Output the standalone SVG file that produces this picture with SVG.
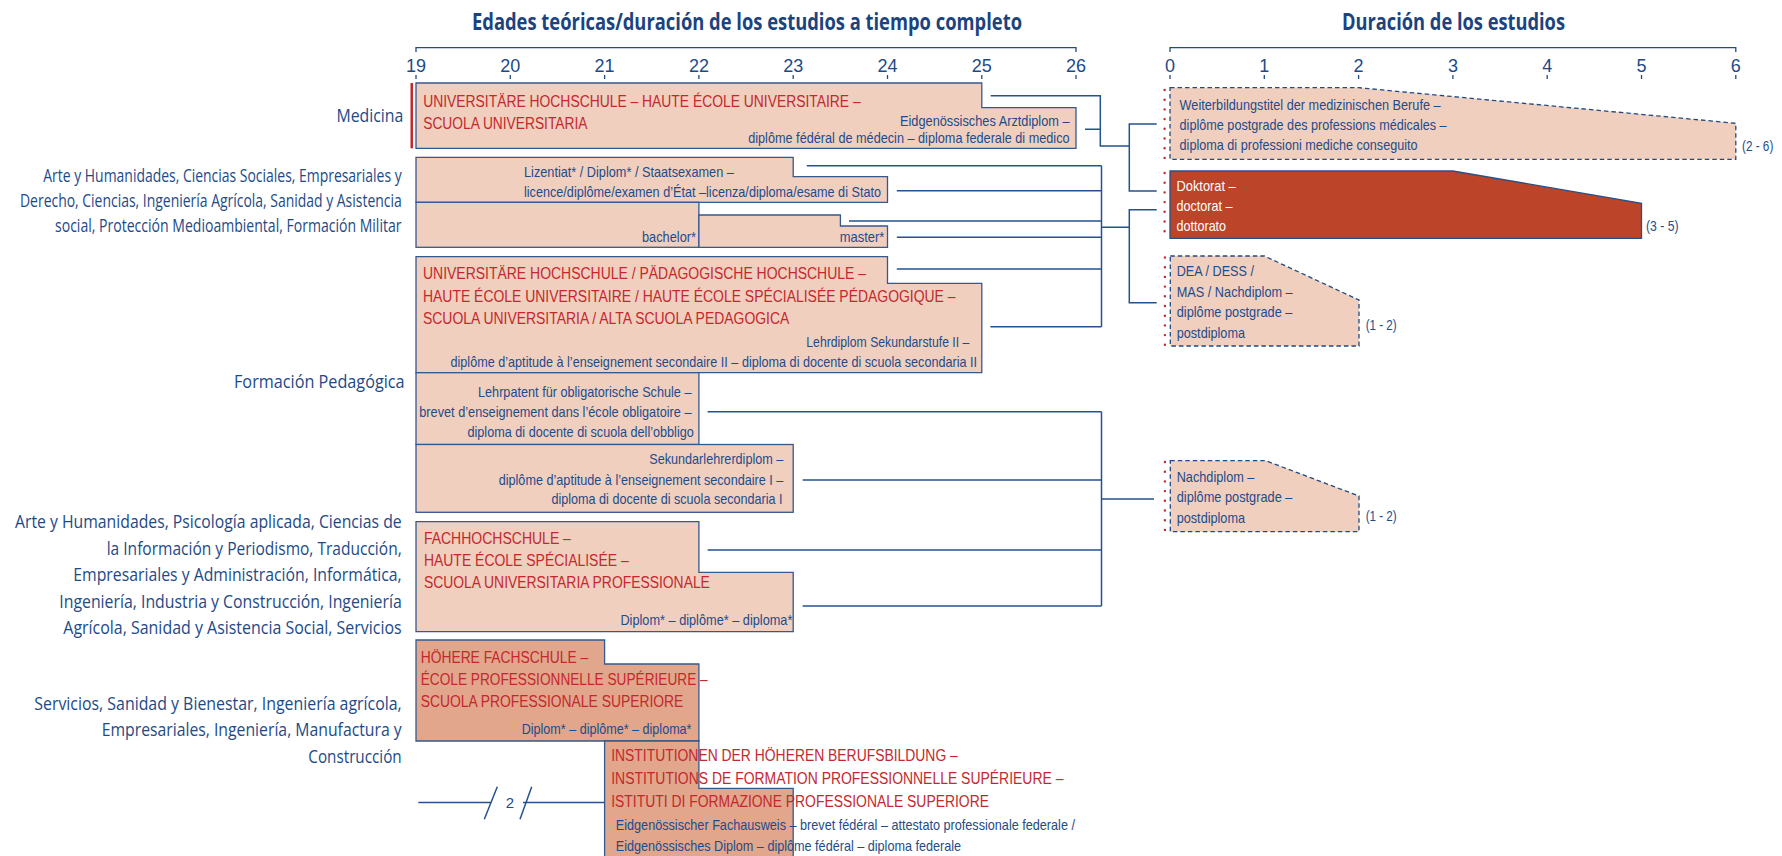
<svg xmlns="http://www.w3.org/2000/svg" width="1782" height="856" viewBox="0 0 1782 856">
<style>
text{font-family:"Liberation Sans",Arial,sans-serif;}
.lbl{font-family:"Open Sans","Liberation Sans",sans-serif;font-size:17.5px;fill:#1d4a87;text-anchor:end;}
.ttl{font-family:"Open Sans","Liberation Sans",sans-serif;font-weight:bold;font-size:23px;fill:#1a4380;}
.num{font-size:18px;fill:#1d4a87;text-anchor:middle;}
.b{font-size:15px;fill:#1e4b8a;}
.r{font-size:16px;fill:#c4282e;}
.w{font-size:15px;fill:#ffffff;}
.box{fill:#f0cfbe;stroke:#34598f;stroke-width:1.3;}
.dark{fill:#e1a68b;stroke:#34598f;stroke-width:1.3;}
.dash{fill:#f0cfbe;stroke:#1f4b86;stroke-width:1.3;stroke-dasharray:4.5 3;}
.phd{fill:#bc4429;stroke:#2a4f88;stroke-width:1.3;}
.dots{stroke:#c4282e;stroke-width:2.4;stroke-linecap:round;stroke-dasharray:0 9.7;fill:none;}
.ax{stroke:#1f4b86;stroke-width:1.3;fill:none;}
.con{stroke:#25528e;stroke-width:1.5;fill:none;}
</style>

<g id="titles">
<text class="ttl" x="472" y="29.5" textLength="550" lengthAdjust="spacingAndGlyphs">Edades teóricas/duración de los estudios a tiempo completo</text>
<text class="ttl" x="1342" y="29.5" textLength="223" lengthAdjust="spacingAndGlyphs">Duración de los estudios</text>
</g>

<g id="axis-age">
<path class="ax" d="M416,52 V47.7 H1076 V52"/>
<path class="ax" d="M416,75 v4 M510.3,75 v4 M604.6,75 v4 M698.9,75 v4 M793.2,75 v4 M887.5,75 v4 M981.8,75 v4 M1076,75 v4"/>
<text class="num" x="416" y="72">19</text>
<text class="num" x="510.3" y="72">20</text>
<text class="num" x="604.6" y="72">21</text>
<text class="num" x="698.9" y="72">22</text>
<text class="num" x="793.2" y="72">23</text>
<text class="num" x="887.5" y="72">24</text>
<text class="num" x="981.8" y="72">25</text>
<text class="num" x="1076" y="72">26</text>
</g>

<g id="axis-duration">
<path class="ax" d="M1170,52 V47.7 H1735.8 V52"/>
<path class="ax" d="M1170,75 v4 M1264.3,75 v4 M1358.6,75 v4 M1452.9,75 v4 M1547.2,75 v4 M1641.5,75 v4 M1735.8,75 v4"/>
<text class="num" x="1170" y="72">0</text>
<text class="num" x="1264.3" y="72">1</text>
<text class="num" x="1358.6" y="72">2</text>
<text class="num" x="1452.9" y="72">3</text>
<text class="num" x="1547.2" y="72">4</text>
<text class="num" x="1641.5" y="72">5</text>
<text class="num" x="1735.8" y="72">6</text>
</g>

<g id="labels">
<text class="lbl" x="403.4" y="122" textLength="67" lengthAdjust="spacingAndGlyphs">Medicina</text>
<text class="lbl" x="401.7" y="181.5" textLength="358.4" lengthAdjust="spacingAndGlyphs">Arte y Humanidades, Ciencias Sociales, Empresariales y</text>
<text class="lbl" x="401.7" y="206.7" textLength="381.7" lengthAdjust="spacingAndGlyphs">Derecho, Ciencias, Ingeniería Agrícola, Sanidad y Asistencia</text>
<text class="lbl" x="401.5" y="232" textLength="346.5" lengthAdjust="spacingAndGlyphs">social, Protección Medioambiental, Formación Militar</text>
<text class="lbl" x="404.6" y="387.5" textLength="170.6" lengthAdjust="spacingAndGlyphs">Formación Pedagógica</text>
<text class="lbl" x="401.7" y="528.3" textLength="386.7" lengthAdjust="spacingAndGlyphs">Arte y Humanidades, Psicología aplicada, Ciencias de</text>
<text class="lbl" x="401.7" y="554.7" textLength="295" lengthAdjust="spacingAndGlyphs">la Información y Periodismo, Traducción,</text>
<text class="lbl" x="401.7" y="581.1" textLength="328.4" lengthAdjust="spacingAndGlyphs">Empresariales y Administración, Informática,</text>
<text class="lbl" x="401.7" y="607.5" textLength="342.4" lengthAdjust="spacingAndGlyphs">Ingeniería, Industria y Construcción, Ingeniería</text>
<text class="lbl" x="401.7" y="633.9" textLength="338.4" lengthAdjust="spacingAndGlyphs">Agrícola, Sanidad y Asistencia Social, Servicios</text>
<text class="lbl" x="401.7" y="710" textLength="367.4" lengthAdjust="spacingAndGlyphs">Servicios, Sanidad y Bienestar, Ingeniería agrícola,</text>
<text class="lbl" x="401.7" y="736.3" textLength="300" lengthAdjust="spacingAndGlyphs">Empresariales, Ingeniería, Manufactura y</text>
<text class="lbl" x="401.7" y="762.6" textLength="93.4" lengthAdjust="spacingAndGlyphs">Construcción</text>
</g>

<g id="connectors">
<path class="con" d="M990.7,95.7 H1100.3 V146 H1129.3 M1085,129.3 H1100.3 M1156.7,124 H1129.3 V191 H1156.7"/>
<path class="con" d="M806.8,165.7 H1101.5 M896.8,190.7 H1101.5 M849,221 H1101.5 M896.8,237.3 H1101.5 M896.8,269 H1101.5 M990.4,326.7 H1101.5 M1101.5,165.7 V326.7 M1101.5,227.3 H1129.3 M1156.7,209.7 H1129.3 V302.7 H1156.7"/>
<path class="con" d="M707.6,411.7 H1101.5 M802.6,480 H1101.5 M707.6,550 H1101.5 M802.6,606 H1101.5 M1101.5,411.7 V606 M1101.5,499 H1154"/>
<path class="con" d="M418.3,802.5 H491 M523,802.5 H604.6 M497.3,786.7 L484.3,819.3 M531.7,786.7 L520,819.3"/>
<text class="b" x="510" y="807.5" text-anchor="middle">2</text>
</g>

<g id="medicina">
<rect x="410.5" y="83" width="2.5" height="65.3" fill="#c4282e"/>
<polygon class="box" points="416,83 981.8,83 981.8,107.7 1076,107.7 1076,148.3 416,148.3"/>
<text class="r" x="423.2" y="106.5" textLength="437.5" lengthAdjust="spacingAndGlyphs">UNIVERSITÄRE HOCHSCHULE – HAUTE ÉCOLE UNIVERSITAIRE –</text>
<text class="r" x="423.2" y="129.3" textLength="164.3" lengthAdjust="spacingAndGlyphs">SCUOLA UNIVERSITARIA</text>
<text class="b" x="900" y="126" textLength="169.6" lengthAdjust="spacingAndGlyphs">Eidgenössisches Arztdiplom –</text>
<text class="b" x="748.2" y="142.7" textLength="321.4" lengthAdjust="spacingAndGlyphs">diplôme fédéral de médecin – diploma federale di medico</text>
</g>

<g id="lizentiat">
<polygon class="box" points="416,157.3 793.2,157.3 793.2,176.7 887.5,176.7 887.5,202.3 416,202.3"/>
<text class="b" x="524" y="177.3" textLength="209.8" lengthAdjust="spacingAndGlyphs">Lizentiat* / Diplom* / Staatsexamen –</text>
<text class="b" x="524" y="196.7" textLength="357" lengthAdjust="spacingAndGlyphs">licence/diplôme/examen d’État –licenza/diploma/esame di Stato</text>
</g>
<g id="bachelor">
<rect class="box" x="416" y="202.3" width="282.9" height="45"/>
<text class="b" x="642" y="241.7" textLength="54" lengthAdjust="spacingAndGlyphs">bachelor*</text>
</g>
<g id="master">
<polygon class="box" points="698.9,215 840.4,215 840.4,226 887.5,226 887.5,247.3 698.9,247.3"/>
<text class="b" x="839.8" y="241.7" textLength="44.6" lengthAdjust="spacingAndGlyphs">master*</text>
</g>

<g id="paedagogik">
<polygon class="box" points="416,256.7 887.5,256.7 887.5,283.3 981.8,283.3 981.8,372.7 416,372.7"/>
<text class="r" x="423" y="279.3" textLength="443" lengthAdjust="spacingAndGlyphs">UNIVERSITÄRE HOCHSCHULE / PÄDAGOGISCHE HOCHSCHULE –</text>
<text class="r" x="423" y="301.7" textLength="532.5" lengthAdjust="spacingAndGlyphs">HAUTE ÉCOLE UNIVERSITAIRE / HAUTE ÉCOLE SPÉCIALISÉE PÉDAGOGIQUE –</text>
<text class="r" x="423" y="324" textLength="366.3" lengthAdjust="spacingAndGlyphs">SCUOLA UNIVERSITARIA / ALTA SCUOLA PEDAGOGICA</text>
<text class="b" x="806.3" y="347.3" textLength="163" lengthAdjust="spacingAndGlyphs">Lehrdiplom Sekundarstufe II –</text>
<text class="b" x="450.5" y="367.3" textLength="526.6" lengthAdjust="spacingAndGlyphs">diplôme d’aptitude à l’enseignement secondaire II – diploma di docente di scuola secondaria II</text>
</g>

<g id="lehrpatent">
<rect class="box" x="416" y="372.7" width="282.9" height="71.8"/>
<text class="b" x="478" y="396.7" textLength="213.5" lengthAdjust="spacingAndGlyphs">Lehrpatent für obligatorische Schule –</text>
<text class="b" x="419.3" y="416.7" textLength="272.2" lengthAdjust="spacingAndGlyphs">brevet d’enseignement dans l’école obligatoire –</text>
<text class="b" x="467.5" y="436.7" textLength="226.3" lengthAdjust="spacingAndGlyphs">diploma di docente di scuola dell’obbligo</text>
</g>

<g id="sekundarlehrer">
<rect class="box" x="416" y="444.5" width="377.2" height="67.8"/>
<text class="b" x="649.3" y="464.3" textLength="134" lengthAdjust="spacingAndGlyphs">Sekundarlehrerdiplom –</text>
<text class="b" x="498.7" y="485" textLength="284.7" lengthAdjust="spacingAndGlyphs">diplôme d’aptitude à l’enseignement secondaire I –</text>
<text class="b" x="551.5" y="504" textLength="231" lengthAdjust="spacingAndGlyphs">diploma di docente di scuola secondaria I</text>
</g>

<g id="fachhochschule">
<polygon class="box" points="416,521.7 698.9,521.7 698.9,572.3 793.2,572.3 793.2,631.7 416,631.7"/>
<text class="r" x="423.9" y="544" textLength="147" lengthAdjust="spacingAndGlyphs">FACHHOCHSCHULE –</text>
<text class="r" x="423.9" y="566" textLength="204.8" lengthAdjust="spacingAndGlyphs">HAUTE ÉCOLE SPÉCIALISÉE –</text>
<text class="r" x="423.9" y="588.3" textLength="286" lengthAdjust="spacingAndGlyphs">SCUOLA UNIVERSITARIA PROFESSIONALE</text>
<text class="b" x="620.4" y="625" textLength="172" lengthAdjust="spacingAndGlyphs">Diplom* – diplôme* – diploma*</text>
</g>

<g id="hoehere-fachschule">
<polygon class="dark" points="416,640 604.6,640 604.6,664 698.9,664 698.9,741 416,741"/>
<text class="r" x="420.7" y="662.7" textLength="167.5" lengthAdjust="spacingAndGlyphs">HÖHERE FACHSCHULE –</text>
<text class="r" x="420.7" y="685" textLength="287" lengthAdjust="spacingAndGlyphs">ÉCOLE PROFESSIONNELLE SUPÉRIEURE –</text>
<text class="r" x="420.7" y="707.3" textLength="262.6" lengthAdjust="spacingAndGlyphs">SCUOLA PROFESSIONALE SUPERIORE</text>
<text class="b" x="521.7" y="734" textLength="169.8" lengthAdjust="spacingAndGlyphs">Diplom* – diplôme* – diploma*</text>
</g>

<g id="berufsbildung">
<polygon class="dark" points="604.6,741 698.9,741 698.9,788.3 793.2,788.3 793.2,862 604.6,862"/>
<text class="r" x="611.2" y="761" textLength="346.6" lengthAdjust="spacingAndGlyphs">INSTITUTIONEN DER HÖHEREN BERUFSBILDUNG –</text>
<text class="r" x="611.2" y="784" textLength="452.2" lengthAdjust="spacingAndGlyphs">INSTITUTIONS DE FORMATION PROFESSIONNELLE SUPÉRIEURE –</text>
<text class="r" x="611.2" y="806.7" textLength="377.8" lengthAdjust="spacingAndGlyphs">ISTITUTI DI FORMAZIONE PROFESSIONALE SUPERIORE</text>
<text class="b" x="615.8" y="830" textLength="459.2" lengthAdjust="spacingAndGlyphs">Eidgenössischer Fachausweis – brevet fédéral – attestato professionale federale /</text>
<text class="b" x="615.8" y="850.7" textLength="345.3" lengthAdjust="spacingAndGlyphs">Eidgenössisches Diplom – diplôme fédéral – diploma federale</text>
</g>

<g id="weiterbildung">
<polygon class="dash" points="1170,87.7 1358.6,87.7 1735.8,123.3 1735.8,159.3 1170,159.3"/>
<line class="dots" x1="1164.6" y1="90" x2="1164.6" y2="160"/>
<text class="b" x="1179.6" y="110" textLength="261" lengthAdjust="spacingAndGlyphs">Weiterbildungstitel der medizinischen Berufe –</text>
<text class="b" x="1179.6" y="130" textLength="267" lengthAdjust="spacingAndGlyphs">diplôme postgrade des professions médicales –</text>
<text class="b" x="1179.6" y="150" textLength="238" lengthAdjust="spacingAndGlyphs">diploma di professioni mediche conseguito</text>
<text class="b" x="1742" y="150.5" textLength="31.3" lengthAdjust="spacingAndGlyphs">(2 - 6)</text>
</g>

<g id="doktorat">
<polygon class="phd" points="1170,171 1452.9,171 1641.5,203.3 1641.5,238.3 1170,238.3"/>
<line class="dots" x1="1164.6" y1="173" x2="1164.6" y2="240"/>
<text class="w" x="1176.5" y="190.7" textLength="59.2" lengthAdjust="spacingAndGlyphs">Doktorat –</text>
<text class="w" x="1176.5" y="210.7" textLength="56" lengthAdjust="spacingAndGlyphs">doctorat –</text>
<text class="w" x="1176.5" y="230.7" textLength="49.6" lengthAdjust="spacingAndGlyphs">dottorato</text>
<text class="b" x="1646" y="231" textLength="32.6" lengthAdjust="spacingAndGlyphs">(3 - 5)</text>
</g>

<g id="dea-mas">
<polygon class="dash" points="1170.3,256 1264.3,256 1359,300 1359,346 1170.3,346"/>
<line class="dots" x1="1164.9" y1="257.5" x2="1164.9" y2="346"/>
<text class="b" x="1176.7" y="276" textLength="77.3" lengthAdjust="spacingAndGlyphs">DEA / DESS /</text>
<text class="b" x="1176.7" y="296.5" textLength="116" lengthAdjust="spacingAndGlyphs">MAS / Nachdiplom –</text>
<text class="b" x="1176.7" y="317" textLength="115.7" lengthAdjust="spacingAndGlyphs">diplôme postgrade –</text>
<text class="b" x="1176.7" y="337.5" textLength="68.3" lengthAdjust="spacingAndGlyphs">postdiploma</text>
<text class="b" x="1365.7" y="330" textLength="31" lengthAdjust="spacingAndGlyphs">(1 - 2)</text>
</g>

<g id="nachdiplom">
<polygon class="dash" points="1170.3,460.7 1265.7,460.7 1359,496 1359,531.7 1170.3,531.7"/>
<line class="dots" x1="1164.9" y1="462" x2="1164.9" y2="532"/>
<text class="b" x="1176.7" y="481.7" textLength="77.7" lengthAdjust="spacingAndGlyphs">Nachdiplom –</text>
<text class="b" x="1176.7" y="502.2" textLength="115.7" lengthAdjust="spacingAndGlyphs">diplôme postgrade –</text>
<text class="b" x="1176.7" y="522.7" textLength="68.3" lengthAdjust="spacingAndGlyphs">postdiploma</text>
<text class="b" x="1365.7" y="521" textLength="31" lengthAdjust="spacingAndGlyphs">(1 - 2)</text>
</g>
</svg>
